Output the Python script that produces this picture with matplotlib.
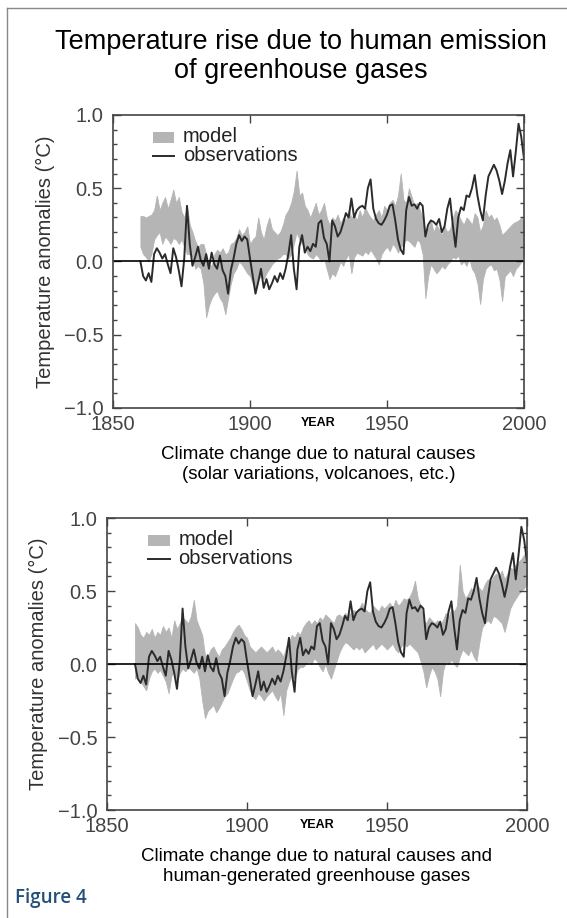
import numpy as np
import matplotlib.pyplot as plt
from matplotlib.patches import Rectangle
from matplotlib.lines import Line2D

years = np.arange(1860, 2001)

# observed anomalies (same series in both panels)
obs = [
    0.00, -0.10, -0.13, -0.08, -0.14, 0.05, 0.09, 0.06, 0.02, 0.05,
    -0.02, -0.08, 0.09, 0.03, -0.06, -0.17, 0.02, 0.38, 0.12, -0.03,
    0.03, 0.10, 0.01, -0.03, 0.05, -0.05, 0.06, -0.02, -0.05, 0.04,
    -0.06, -0.10, -0.22, -0.06, 0.02, 0.12, 0.18, 0.14, 0.17, 0.15,
    0.02, -0.10, -0.22, -0.14, -0.05, -0.18, -0.12, -0.19, -0.15, -0.10,
    -0.14, -0.08, -0.12, -0.05, 0.05, 0.18, -0.05, -0.19, 0.10, 0.18,
    0.06, 0.10, 0.07, 0.12, 0.10, 0.26, 0.28, 0.16, 0.12, 0.00,
    0.28, 0.24, 0.17, 0.20, 0.26, 0.33, 0.30, 0.43, 0.30, 0.35,
    0.37, 0.38, 0.36, 0.50, 0.56, 0.36, 0.29, 0.26, 0.25, 0.28,
    0.32, 0.38, 0.39, 0.28, 0.15, 0.08, 0.05, 0.35, 0.44, 0.38,
    0.39, 0.36, 0.40, 0.38, 0.17, 0.25, 0.28, 0.27, 0.25, 0.29,
    0.20, 0.24, 0.36, 0.43, 0.25, 0.10, 0.30, 0.37, 0.35, 0.45,
    0.44, 0.50, 0.59, 0.45, 0.35, 0.28, 0.45, 0.58, 0.62, 0.66,
    0.62, 0.55, 0.46, 0.55, 0.67, 0.76, 0.58, 0.75, 0.94, 0.85,
    0.70,
]

# model range, natural forcing only
nat_hi = [
    0.31, 0.31, 0.30, 0.31, 0.32, 0.35, 0.45, 0.35, 0.40, 0.44,
    0.36, 0.42, 0.49, 0.40, 0.44, 0.34, 0.30, 0.38, 0.25, 0.20,
    0.14, 0.10, 0.12, 0.12, 0.05, -0.02, -0.03, 0.05, 0.08, 0.06,
    0.09, 0.05, 0.06, 0.12, 0.13, 0.16, 0.22, 0.18, 0.20, 0.24,
    0.12, 0.15, 0.17, 0.30, 0.20, 0.15, 0.24, 0.30, 0.22, 0.20,
    0.18, 0.20, 0.25, 0.32, 0.35, 0.40, 0.48, 0.62, 0.45, 0.47,
    0.38, 0.35, 0.30, 0.35, 0.40, 0.32, 0.35, 0.40, 0.30, 0.25,
    0.30, 0.28, 0.32, 0.26, 0.30, 0.28, 0.35, 0.30, 0.32, 0.28,
    0.35, 0.30, 0.37, 0.33, 0.30, 0.28, 0.32, 0.35, 0.30, 0.38,
    0.35, 0.40, 0.42, 0.38, 0.45, 0.60, 0.42, 0.40, 0.50, 0.44,
    0.38, 0.40, 0.35, 0.30, 0.20, 0.22, 0.28, 0.20, 0.25, 0.22,
    0.18, 0.24, 0.20, 0.22, 0.30, 0.35, 0.32, 0.28, 0.25, 0.30,
    0.28, 0.25, 0.33, 0.30, 0.20, 0.25, 0.35, 0.30, 0.32, 0.28,
    0.30, 0.25, 0.18, 0.20, 0.22, 0.24, 0.26, 0.27, 0.28, 0.30,
    0.28,
]
nat_lo = [
    0.10, 0.05, 0.03, 0.00, 0.05, 0.15, 0.18, 0.20, 0.12, 0.17,
    0.15, 0.12, 0.16, 0.15, 0.12, 0.15, 0.10, 0.05, 0.05, 0.03,
    -0.05, -0.03, -0.05, -0.15, -0.38, -0.30, -0.25, -0.22, -0.20, -0.25,
    -0.28, -0.36, -0.25, -0.15, -0.08, -0.05, 0.00, -0.02, -0.05, -0.08,
    -0.10, -0.15, -0.20, -0.12, -0.10, -0.12, -0.08, -0.05, -0.02, 0.00,
    0.02, 0.03, 0.05, 0.05, 0.02, 0.05, 0.12, 0.20, 0.15, 0.12,
    0.10, 0.05, 0.03, 0.02, 0.05, 0.03, 0.00, 0.02, -0.05, -0.12,
    -0.08, -0.10, -0.05, 0.00, -0.03, 0.02, 0.05, -0.08, 0.03, 0.06,
    0.05, 0.04, 0.07, 0.05, 0.08, 0.05, 0.02, -0.02, 0.05, 0.08,
    0.10, 0.07, 0.12, 0.10, 0.06, 0.10, 0.12, 0.15, 0.14, 0.12,
    0.10, 0.15, 0.13, 0.05, -0.25, -0.10, -0.02, -0.05, -0.08, -0.06,
    -0.03, -0.05, -0.02, 0.00, 0.03, 0.02, 0.04, -0.02, 0.00, -0.03,
    0.02, -0.05, -0.08, -0.15, -0.29, -0.12, -0.05, -0.03, -0.02, -0.06,
    -0.05, -0.12, -0.27, -0.10, -0.08, -0.06, -0.10, -0.05, -0.03, 0.00,
    0.05,
]

# model range, natural + anthropogenic forcing
all_hi = [
    0.28, 0.25, 0.20, 0.18, 0.22, 0.20, 0.24, 0.18, 0.22, 0.20,
    0.26, 0.22, 0.25, 0.18, 0.30, 0.24, 0.28, 0.32, 0.30, 0.28,
    0.33, 0.44, 0.30, 0.25, 0.20, 0.06, 0.05, 0.10, 0.12, 0.08,
    0.05, 0.10, 0.12, 0.15, 0.18, 0.22, 0.25, 0.27, 0.24, 0.20,
    0.18, 0.12, 0.10, 0.08, 0.10, 0.12, 0.10, 0.08, 0.10, 0.12,
    0.08, 0.10, 0.08, 0.05, 0.12, 0.15, 0.20, 0.18, 0.22, 0.20,
    0.25, 0.28, 0.30, 0.27, 0.30, 0.28, 0.32, 0.30, 0.34, 0.32,
    0.30, 0.28, 0.33, 0.34, 0.32, 0.35, 0.33, 0.35, 0.37, 0.36,
    0.38, 0.42, 0.38, 0.36, 0.35, 0.40, 0.38, 0.36, 0.40, 0.38,
    0.40, 0.42, 0.38, 0.44, 0.40, 0.42, 0.45, 0.44, 0.46, 0.50,
    0.57, 0.45, 0.40, 0.30, 0.28, 0.32, 0.30, 0.28, 0.30, 0.27,
    0.30, 0.35, 0.32, 0.38, 0.36, 0.40, 0.68, 0.50, 0.45, 0.48,
    0.52, 0.50, 0.55, 0.52, 0.50, 0.55, 0.58, 0.56, 0.60, 0.62,
    0.60, 0.64, 0.58, 0.62, 0.66, 0.65, 0.68, 0.70, 0.72, 0.75,
    0.78,
]
all_lo = [
    -0.10, -0.08, -0.12, -0.15, -0.18, -0.10, -0.05, -0.03, -0.06, -0.04,
    -0.08, -0.12, -0.20, -0.08, -0.05, -0.12, -0.06, -0.03, -0.05, -0.02,
    -0.04, -0.06, -0.03, -0.10, -0.25, -0.37, -0.32, -0.30, -0.28, -0.33,
    -0.30, -0.26, -0.22, -0.20, -0.15, -0.10, -0.06, -0.05, -0.03, -0.06,
    -0.12, -0.18, -0.22, -0.24, -0.20, -0.22, -0.25, -0.22, -0.20, -0.18,
    -0.22, -0.25, -0.20, -0.35, -0.18, -0.12, -0.08, -0.10, -0.04, -0.02,
    -0.02, 0.00, 0.02, 0.00, 0.04, 0.02, -0.02, -0.05, 0.00, -0.06,
    -0.10, -0.04, 0.02, 0.08, 0.12, 0.15, 0.14, 0.12, 0.10, 0.12,
    0.10, 0.12, 0.08, 0.10, 0.12, 0.14, 0.10, 0.12, 0.14, 0.12,
    0.10, 0.12, 0.14, 0.10, 0.08, 0.12, 0.14, 0.12, 0.14, 0.12,
    0.10, 0.08, 0.02, -0.05, -0.16, -0.08, -0.02, -0.05, -0.10, -0.22,
    -0.05, 0.02, 0.00, 0.03, 0.00, -0.02, 0.05, 0.10, 0.08, 0.06,
    0.10, 0.05, 0.02, 0.15, 0.25, 0.28, 0.30, 0.28, 0.33, 0.32,
    0.30, 0.28, 0.22, 0.30, 0.38, 0.42, 0.45, 0.48, 0.50, 0.52,
    0.55,
]

yticks = [-1.0, -0.5, 0.0, 0.5, 1.0]
ytick_labels = ["\u22121.0", "\u22120.5", "0.0", "0.5", "1.0"]
xticks = [1850, 1900, 1950, 2000]

plt.rcParams["font.family"] = ["Liberation Sans", "DejaVu Sans"]

GRAY = "#b5b5b5"
INK = "#2b2b2b"

fig = plt.figure(figsize=(5.67, 9.18), dpi=100)

fig.text(0.53, 0.938, "Temperature rise due to human emission\nof greenhouse gases",
         ha="center", va="center", fontsize=19.5, linespacing=1.15)


def panel(rect, lo, hi, caption):
    ax = fig.add_axes(rect)
    ax.fill_between(years, lo, hi, facecolor=GRAY, edgecolor=GRAY, lw=0.6)
    ax.plot(years, obs, color=INK, lw=1.4)
    ax.axhline(0, color="black", lw=1.2)
    ax.set_xlim(1850, 2000)
    ax.set_ylim(-1.0, 1.0)
    ax.set_xticks(xticks)
    ax.set_yticks(yticks)
    ax.set_yticklabels(ytick_labels)
    ax.set_yticks(np.arange(-1.0, 1.01, 0.1), minor=True)
    ax.tick_params(which="both", direction="in", top=True, right=True,
                   colors="#444444", labelsize=14.5)
    ax.tick_params(which="major", length=6, width=1)
    ax.tick_params(which="minor", length=3, width=1)
    ax.tick_params(axis="y", pad=7)
    ax.tick_params(axis="x", pad=5)
    for s in ax.spines.values():
        s.set_color("#444444")
        s.set_linewidth(1.2)
    ax.set_ylabel("Temperature anomalies (\u00b0C)", fontsize=14.5, color="#333333")
    ax.yaxis.set_label_coords(-0.14, 0.5)
    ax.text(0.5, -0.03, "YEAR", transform=ax.transAxes, ha="center", va="top",
            fontsize=9, fontweight="bold")
    ax.text(0.5, -0.13, caption, transform=ax.transAxes, ha="center", va="top",
            fontsize=13.5, linespacing=1.2)
    # legend
    ax.add_patch(Rectangle((0.097, 0.905), 0.052, 0.038, transform=ax.transAxes,
                           color=GRAY, lw=0))
    ax.add_line(Line2D([0.097, 0.149], [0.86, 0.86], transform=ax.transAxes,
                       color=INK, lw=1.4))
    ax.text(0.17, 0.925, "model", transform=ax.transAxes, va="center",
            fontsize=14.5, color="#222222")
    ax.text(0.17, 0.86, "observations", transform=ax.transAxes, va="center",
            fontsize=14.5, color="#222222")
    return ax


panel([0.1993, 0.5556, 0.7249, 0.3192], nat_lo, nat_hi,
      "Climate change due to natural causes\n(solar variations, volcanoes, etc.)")
panel([0.1887, 0.1176, 0.7407, 0.3181], all_lo, all_hi,
      "Climate change due to natural causes and\nhuman-generated greenhouse gases")

fig.text(0.026, 0.022, "Figure 4", ha="left", va="center", fontsize=13.5,
         fontweight="semibold", color="#23507a", family=["Open Sans", "DejaVu Sans"])

# page frame: left and top rules
fig.add_artist(Line2D([0.012, 0.012], [0.0, 0.991], color="#888888", lw=1))
fig.add_artist(Line2D([0.012, 1.0], [0.991, 0.991], color="#888888", lw=1))

plt.savefig("out.png", dpi=100)
